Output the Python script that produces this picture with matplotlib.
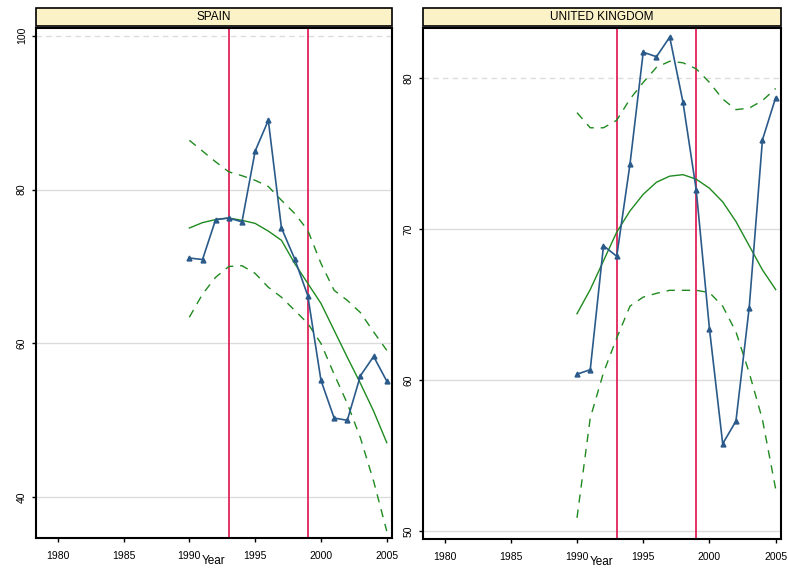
import numpy as np
import matplotlib
matplotlib.use('Agg')
import matplotlib.pyplot as plt
from matplotlib.patches import Rectangle

plt.rcParams['font.family'] = ['Liberation Sans', 'DejaVu Sans']

years = np.arange(1990, 2006)
breaks = [1993, 1999]

# SPAIN
spain = [71.1, 70.9, 76.1, 76.3, 75.8, 85.0, 89.0, 75.0, 71.0, 66.2,
         55.2, 50.3, 50.0, 55.8, 58.3, 55.1]
spain_fit = [75.0, 75.7, 76.1, 76.3, 76.0, 75.6, 74.6, 73.4, 70.4, 67.8,
             65.2, 61.7, 58.2, 54.8, 51.2, 47.1]
spain_hi = [86.4, 85.0, 83.6, 82.3, 81.8, 81.2, 80.4, 78.6, 76.9, 74.7,
            70.4, 66.9, 65.6, 64.0, 61.5, 59.1]
spain_lo = [63.4, 66.4, 68.6, 70.0, 70.1, 69.1, 67.3, 66.0, 64.3, 62.6,
            60.0, 56.0, 52.2, 47.7, 42.1, 35.6]

# UNITED KINGDOM
uk = [60.4, 60.7, 68.9, 68.2, 74.3, 81.7, 81.4, 82.7, 78.4, 72.6,
      63.4, 55.8, 57.3, 64.8, 75.9, 78.7]
uk_fit = [64.4, 66.0, 67.9, 69.8, 71.2, 72.3, 73.1, 73.5, 73.6, 73.3,
          72.7, 71.8, 70.5, 68.9, 67.3, 66.0]
uk_hi = [77.7, 76.7, 76.7, 77.2, 78.6, 79.7, 80.7, 81.1, 81.0, 80.6,
         79.7, 78.6, 77.9, 78.0, 78.5, 79.3]
uk_lo = [50.9, 57.5, 60.5, 62.8, 64.9, 65.5, 65.75, 65.95, 65.95, 65.95,
         65.8, 64.9, 63.2, 60.5, 57.4, 52.8]

xticks = [1980, 1985, 1990, 1995, 2000, 2005]

blue = '#2a5a8a'
green = '#1f8a1f'
red = '#e0245a'

fig = plt.figure(figsize=(7.88, 5.75), dpi=100)
ax1 = fig.add_axes([0.0457, 0.0643, 0.4518, 0.887])
ax2 = fig.add_axes([0.5364, 0.0626, 0.4547, 0.8887])

panels = [
    (ax1, 'SPAIN', spain, spain_fit, spain_hi, spain_lo, [40, 60, 80, 100], (34.7, 101.0)),
    (ax2, 'UNITED KINGDOM', uk, uk_fit, uk_hi, uk_lo, [50, 60, 70, 80], (49.5, 83.3)),
]

for ax, title, obs, fit, hi, lo, yt, ylim in panels:
    ax.set_xlim(1978.35, 2005.4)
    ax.set_ylim(*ylim)
    ax.set_xticks(xticks)
    ax.set_yticks(yt)
    ax.tick_params(labelsize=7.5, length=3, width=1, direction='out', colors='black')
    ax.tick_params(axis='x', pad=6)
    for lab in ax.get_yticklabels():
        lab.set_rotation(90)
        lab.set_va('center')
    ax.grid(axis='y', color='#dcdcdc', lw=1)
    gl = ax.yaxis.get_gridlines()
    gl[-1].set_linestyle((0, (4, 3)))
    ax.set_axisbelow(True)
    for s in ax.spines.values():
        s.set_linewidth(1.5)

    for b in breaks:
        ax.axvline(b, color=red, lw=1.3, zorder=2)
    ax.plot(years, fit, color=green, lw=1.0, zorder=3)
    ax.plot(years, hi, color=green, lw=1.0, ls=(0, (6, 5)), zorder=3)
    ax.plot(years, lo, color=green, lw=1.0, ls=(0, (6, 5)), zorder=3)
    ax.plot(years, obs, color=blue, lw=1.2, marker='^', ms=3.5, zorder=4)

    ax.set_xlabel('Year', fontsize=8.5, labelpad=-4)

    # strip title
    strip = Rectangle((0, 1.004), 1, 0.036, transform=ax.transAxes,
                      facecolor='#fcf2c8', edgecolor='black', lw=1.2,
                      clip_on=False)
    ax.add_patch(strip)
    ax.text(0.5, 1.022, title, transform=ax.transAxes, ha='center',
            va='center', fontsize=8.5)

fig.savefig('out.png', dpi=100)
